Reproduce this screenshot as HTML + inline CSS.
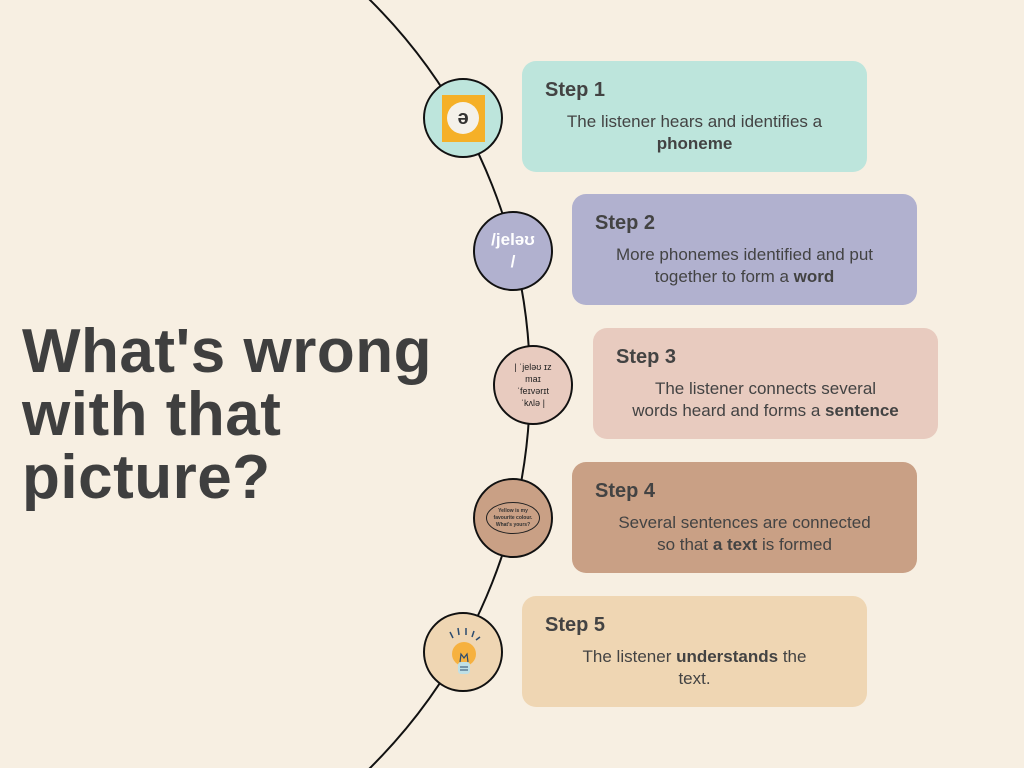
<!DOCTYPE html>
<html style="overflow:hidden"><head><meta charset="utf-8"><style>
html,body{margin:0;width:1024px;height:768px;overflow:hidden}
body{background:#f7efe2;position:relative;font-family:"Liberation Sans",sans-serif;color:#434343}
.t{position:absolute;left:22px;top:320px;font-size:62px;font-weight:bold;line-height:63px;color:#3f3f3f;letter-spacing:0.5px}
.b{position:absolute;width:345px;height:111px;border-radius:14px}
.b h3{margin:0;position:absolute;left:23px;top:18px;font-size:20px;font-weight:bold}
.b p{margin:0;position:absolute;left:20px;right:20px;top:50px;text-align:center;font-size:17px;line-height:22px}
.c{position:absolute;width:76px;height:76px;border:2px solid #111;border-radius:50%;display:flex;align-items:center;justify-content:center;text-align:center}
</style></head><body>
<svg width="1024" height="768" style="position:absolute;left:0;top:0;display:block"><circle cx="-10.8" cy="384" r="540.8" fill="none" stroke="#111" stroke-width="2"/></svg>
<div class="t">What's wrong<br>with that<br>picture?</div>

<div class="b" style="left:522px;top:61px;background:#bde5dc"><h3>Step 1</h3><p style="left:22px;right:22px">The listener hears and identifies a <b>phoneme</b></p></div>
<div class="b" style="left:572px;top:194px;background:#b1b1cf"><h3>Step 2</h3><p style="left:22px;right:22px">More phonemes identified and put together to form a <b>word</b></p></div>
<div class="b" style="left:593px;top:328px;background:#e8cbbf"><h3>Step 3</h3><p style="left:10px;right:10px">The listener connects several<br>words heard and forms a <b>sentence</b></p></div>
<div class="b" style="left:572px;top:462px;background:#c9a085"><h3>Step 4</h3><p style="left:10px;right:10px">Several sentences are connected<br>so that <b>a text</b> is formed</p></div>
<div class="b" style="left:522px;top:596px;background:#efd6b3"><h3>Step 5</h3><p style="left:20px;right:20px">The listener <b>understands</b> the<br>text.</p></div>

<div class="c" style="left:423px;top:78px;background:#bde5dc"><div style="width:43px;height:47px;background:#f5b027;display:flex;align-items:center;justify-content:center"><div style="width:32px;height:32px;border-radius:50%;background:#f4f1ea;font-size:20px;font-weight:bold;line-height:32px;color:#333">ə</div></div></div>
<div class="c" style="left:473px;top:211px;background:#b1b1cf;color:#fff;font-weight:bold;font-size:17px;line-height:22px">/jeləʊ<br>/</div>
<div class="c" style="left:493px;top:345px;background:#e8cbbf;font-size:9px;line-height:12px;color:#222">| ˈjeləʊ ɪz<br>maɪ<br>ˈfeɪvərɪt<br>ˈkʌlə |</div>
<div class="c" style="left:473px;top:478px;background:#c9a085"><div style="width:52px;height:30px;border:1.5px solid #222;border-radius:50%;font-size:5px;line-height:7px;font-weight:bold;color:#333;display:flex;align-items:center;justify-content:center;background:#c9a085">Yellow is my<br>favourite colour.<br>What's yours?</div></div>
<div class="c" style="left:423px;top:612px;background:#efd6b3"><svg width="50" height="56" viewBox="0 0 50 56"><g stroke="#2b4b6f" stroke-width="1.5"><line x1="12" y1="8" x2="15" y2="14"/><line x1="20" y1="4" x2="21" y2="11"/><line x1="28" y1="4" x2="28" y2="11"/><line x1="36" y1="7" x2="34" y2="13"/><line x1="42" y1="13" x2="38" y2="16"/></g><circle cx="26" cy="30" r="12" fill="#f6b13f"/><rect x="20" y="38" width="12" height="12" rx="3" fill="#bfe0e6"/><path d="M22 38 L23 30 L26 34 L29 30 L30 38" stroke="#2b4b6f" fill="none" stroke-width="1.2"/><line x1="22" y1="43" x2="30" y2="43" stroke="#2b4b6f"/><line x1="22" y1="46" x2="30" y2="46" stroke="#2b4b6f"/></svg></div>
</body></html>
